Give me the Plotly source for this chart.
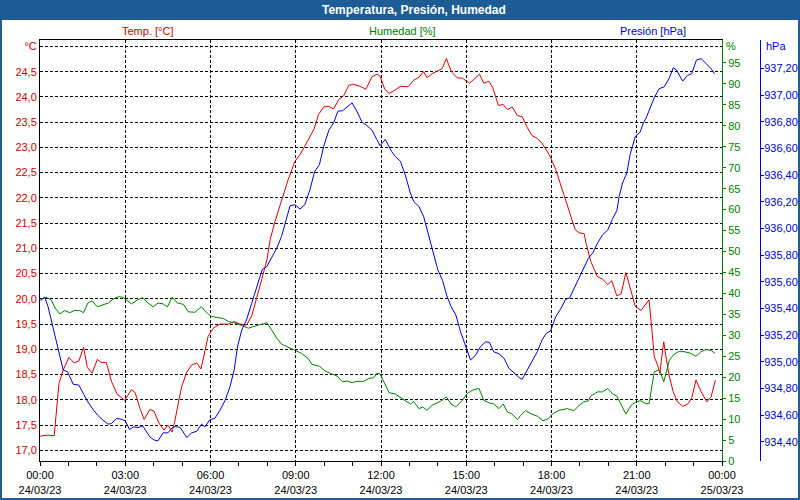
import plotly.graph_objects as go
import pandas as pd

title_text = "Temperatura, Presión, Humedad"
day0 = "2023-03-24 00:00"

# minutes after 00:00 24/03/23 and readings
temp_min = [0, 17, 30, 40, 49, 61, 72, 82, 92, 100,
            110, 121, 129, 140, 151, 163, 179, 193, 201, 211,
            220, 232, 241, 251, 262, 270, 279, 284, 299, 310,
            320, 331, 340, 348, 355, 366, 380, 398, 410, 422,
            436, 447, 458, 468, 479, 486, 496, 510, 524, 538,
            549, 560, 570, 579, 588, 599, 610, 620, 631, 641,
            652, 662, 676, 688, 701, 712, 718, 728, 737, 749,
            761, 777, 789, 800, 810, 817, 828, 840, 849, 858,
            869, 881, 892, 907, 918, 928, 937, 948, 956, 968,
            978, 987, 997, 1008, 1018, 1029, 1039, 1050, 1060, 1075,
            1089, 1103, 1117, 1130, 1138, 1149, 1153, 1163, 1177, 1188,
            1199, 1207, 1218, 1227, 1237, 1246, 1257, 1269, 1278, 1286,
            1292, 1297, 1304, 1309, 1312, 1317, 1321, 1329, 1337, 1346,
            1357, 1367, 1376, 1385, 1396, 1408, 1417, 1426]
temp_c = [17.28, 17.30, 17.29, 18.32, 18.59, 18.84, 18.73, 18.77, 19.04, 18.64,
          18.53, 18.80, 18.74, 18.74, 18.36, 18.11, 17.99, 18.20, 18.14, 17.83,
          17.61, 17.81, 17.77, 17.54, 17.40, 17.50, 17.36, 17.55, 18.26, 18.55,
          18.69, 18.73, 18.61, 18.95, 19.26, 19.42, 19.50, 19.50, 19.55, 19.50,
          19.48, 19.66, 20.01, 20.38, 20.77, 21.17, 21.53, 21.96, 22.36, 22.72,
          22.86, 23.04, 23.22, 23.37, 23.65, 23.80, 23.81, 23.76, 23.95, 24.02,
          24.23, 24.25, 24.21, 24.15, 24.40, 24.45, 24.41, 24.15, 24.07, 24.13,
          24.21, 24.20, 24.33, 24.39, 24.50, 24.38, 24.46, 24.51, 24.56, 24.76,
          24.49, 24.38, 24.37, 24.27, 24.37, 24.45, 24.27, 24.31, 24.18, 23.83,
          23.85, 23.75, 23.80, 23.63, 23.61, 23.39, 23.23, 23.18, 23.08, 22.86,
          22.56, 22.16, 21.73, 21.37, 21.31, 21.29, 21.10, 20.74, 20.44, 20.39,
          20.28, 20.36, 20.06, 20.10, 20.52, 20.21, 19.85, 19.77, 19.88, 19.98,
          19.38, 18.85, 18.69, 18.52, 18.79, 19.15, 18.89, 18.45, 18.16, 17.96,
          17.87, 17.91, 18.03, 18.39, 18.16, 17.96, 18.06, 18.39]

hum_min = [1, 13, 24, 32, 42, 52, 63, 72, 84, 92,
           101, 110, 121, 133, 144, 154, 165, 175, 182, 193,
           205, 217, 228, 239, 249, 260, 269, 279, 290, 303,
           313, 327, 341, 352, 362, 373, 387, 398, 412, 429,
           440, 454, 468, 479, 489, 500, 510, 524, 538, 552,
           566, 574, 590, 602, 613, 627, 639, 648, 659, 669,
           683, 694, 705, 711, 718, 728, 737, 750, 763, 775,
           782, 789, 800, 808, 817, 828, 845, 858, 868, 878,
           892, 902, 913, 927, 937, 948, 958, 969, 978, 987,
           997, 1008, 1015, 1025, 1038, 1050, 1062, 1073, 1083, 1096,
           1113, 1127, 1138, 1148, 1158, 1163, 1177, 1188, 1199, 1208,
           1218, 1227, 1237, 1248, 1258, 1269, 1278, 1286, 1292, 1297,
           1306, 1311, 1317, 1322, 1329, 1339, 1348, 1360, 1374, 1385,
           1396, 1406, 1417, 1425]
hum_pct = [38.6, 39.1, 38.4, 36.5, 35.1, 35.9, 35.4, 35.9, 35.9, 35.4,
           37.7, 38.2, 36.8, 37.2, 37.7, 38.6, 39.2, 39.1, 38.4, 37.5,
           38.4, 39.0, 37.7, 36.8, 37.7, 37.5, 36.8, 39.1, 37.7, 37.4,
           35.6, 35.5, 36.8, 35.4, 34.5, 34.3, 34.0, 33.3, 32.9, 32.2,
           31.7, 32.2, 32.6, 33.0, 31.3, 29.3, 27.9, 27.1, 26.3, 25.7,
           24.5, 23.1, 22.6, 21.5, 20.9, 20.3, 18.9, 19.1, 18.7, 19.0,
           19.0, 19.7, 19.9, 20.9, 20.8, 18.5, 16.3, 16.0, 14.9, 14.1,
           13.6, 14.2, 12.5, 12.9, 12.1, 13.3, 14.2, 15.3, 13.6, 12.9,
           14.5, 16.1, 16.9, 17.3, 14.5, 13.9, 13.6, 12.5, 13.6, 11.7,
           11.2, 9.9, 10.9, 12.0, 11.2, 10.7, 9.6, 10.1, 11.3, 12.1,
           12.5, 12.0, 13.2, 14.1, 14.4, 15.5, 16.5, 16.5, 17.3, 16.1,
           15.5, 13.3, 11.2, 13.3, 14.1, 14.4, 13.7, 13.7, 17.7, 21.3,
           21.7, 20.9, 18.9, 21.3, 24.1, 25.5, 26.1, 26.1, 25.7, 25.0,
           26.1, 26.6, 26.4, 25.7]

pres_min = [1, 10, 17, 27, 38, 49, 58, 70, 82, 91,
            101, 112, 122, 133, 144, 151, 161, 172, 180, 189,
            198, 207, 217, 232, 242, 249, 260, 270, 281, 290,
            296, 310, 320, 331, 341, 348, 359, 369, 380, 391,
            401, 410, 417, 426, 436, 447, 460, 469, 479, 489,
            500, 510, 519, 528, 538, 549, 559, 570, 580, 590,
            599, 610, 620, 629, 639, 650, 659, 669, 680, 690,
            701, 711, 718, 729, 742, 750, 761, 771, 782, 789,
            800, 810, 821, 831, 840, 850, 859, 868, 878, 888,
            899, 909, 920, 930, 941, 949, 958, 969, 980, 990,
            1001, 1011, 1018, 1029, 1039, 1050, 1060, 1069, 1078, 1089,
            1099, 1110, 1118, 1129, 1142, 1158, 1167, 1177, 1188, 1199,
            1208, 1218, 1223, 1230, 1239, 1246, 1251, 1257, 1267, 1274,
            1279, 1286, 1297, 1307, 1318, 1329, 1337, 1344, 1357, 1367,
            1376, 1386, 1396, 1406, 1417, 1424]
pres_hpa = [935.459, 935.485, 935.414, 935.264, 935.089, 934.939, 934.926, 934.833, 934.826, 934.768,
            934.700, 934.643, 934.600, 934.563, 934.533, 934.538, 934.576, 934.570, 934.558, 934.493,
            934.513, 934.508, 934.520, 934.437, 934.413, 934.408, 934.468, 934.468, 934.513, 934.513,
            934.508, 934.433, 934.468, 934.480, 934.533, 934.513, 934.568, 934.576, 934.638, 934.713,
            934.813, 934.939, 935.114, 935.239, 935.314, 935.439, 935.590, 935.690, 935.715, 935.778,
            935.853, 935.940, 936.053, 936.171, 936.178, 936.146, 936.178, 936.291, 936.428, 936.479,
            936.616, 936.737, 936.792, 936.879, 936.883, 936.917, 936.942, 936.879, 936.797, 936.772,
            936.737, 936.667, 936.621, 936.667, 936.579, 936.541, 936.504, 936.404, 936.266, 936.203,
            936.165, 936.090, 935.940, 935.815, 935.690, 935.610, 935.495, 935.414, 935.352, 935.226,
            935.114, 935.014, 935.051, 935.114, 935.151, 935.146, 935.076, 935.061, 935.026, 934.951,
            934.918, 934.884, 934.869, 934.939, 935.001, 935.076, 935.164, 935.214, 935.231, 935.339,
            935.395, 935.470, 935.478, 935.564, 935.652, 935.778, 935.815, 935.890, 935.953, 935.990,
            936.066, 936.135, 936.241, 936.341, 936.416, 936.554, 936.616, 936.691, 936.721, 936.792,
            936.822, 936.879, 936.980, 937.047, 937.062, 937.130, 937.205, 937.188, 937.105, 937.147,
            937.160, 937.262, 937.273, 937.238, 937.198, 937.160]

x_tick_hours = [0, 3, 6, 9, 12, 15, 18, 21, 24]
x_tick_text = ["00:00<br>24/03/23", "03:00<br>24/03/23", "06:00<br>24/03/23",
               "09:00<br>24/03/23", "12:00<br>24/03/23", "15:00<br>24/03/23",
               "18:00<br>24/03/23", "21:00<br>24/03/23", "00:00<br>25/03/23"]
temp_ticks = [17.0, 17.5, 18.0, 18.5, 19.0, 19.5, 20.0, 20.5, 21.0, 21.5,
              22.0, 22.5, 23.0, 23.5, 24.0, 24.5, 25.0]
temp_tick_text = ["17,0", "17,5", "18,0", "18,5", "19,0", "19,5", "20,0", "20,5",
                  "21,0", "21,5", "22,0", "22,5", "23,0", "23,5", "24,0", "24,5", "°C"]
hum_ticks = [0, 5, 10, 15, 20, 25, 30, 35, 40, 45, 50, 55, 60, 65, 70, 75, 80, 85, 90, 95]
pres_ticks = [934.40, 934.60, 934.80, 935.00, 935.20, 935.40, 935.60, 935.80,
              936.00, 936.20, 936.40, 936.60, 936.80, 937.00, 937.20]
pres_tick_text = ["934,40", "934,60", "934,80", "935,00", "935,20", "935,40", "935,60",
                  "935,80", "936,00", "936,20", "936,40", "936,60", "936,80", "937,00", "937,20"]

RED, GREEN, BLUE = "#cc0000", "#008000", "#0000cc"
BAR = "#1e5c96"
FONT = "Liberation Sans"

t0 = pd.Timestamp(day0)
def to_time(mins):
    return [t0 + pd.Timedelta(minutes=m) for m in mins]

# layout geometry (pixels)
W, H = 800, 500
ML, MR, MT, MB = 40, 2, 40, 39
PW, PH = W - ML - MR, H - MT - MB
def px(x):
    return (x - ML) / PW
def py(y):
    return (H - MB - y) / PH

fig = go.Figure()
fig.add_trace(go.Scatter(x=to_time(temp_min), y=temp_c, mode="lines",
                         line=dict(color="#dd0000", width=1), yaxis="y", name="Temp."))
fig.add_trace(go.Scatter(x=to_time(hum_min), y=hum_pct, mode="lines",
                         line=dict(color="#008000", width=1), yaxis="y2", name="Humedad"))
fig.add_trace(go.Scatter(x=to_time(pres_min), y=pres_hpa, mode="lines",
                         line=dict(color="#0000dd", width=1), yaxis="y3", name="Presión"))

grid = dict(showgrid=True, gridcolor="black", gridwidth=1, griddash="3px,2px")
fig.update_layout(
    width=W, height=H,
    margin=dict(l=ML, r=MR, t=MT, b=MB, pad=0),
    paper_bgcolor="white", plot_bgcolor="white",
    showlegend=False,
    font=dict(family=FONT, size=11, color="black"),
    xaxis=dict(domain=[0, 682 / PW], type="date",
               range=[t0, t0 + pd.Timedelta(hours=24)],
               tickvals=[t0 + pd.Timedelta(hours=h) for h in x_tick_hours],
               ticktext=x_tick_text, tickfont=dict(color="black", size=11),
               showline=True, linecolor="black", linewidth=1, mirror=True,
               ticks="outside", ticklen=4, tickcolor="black",
               minor=dict(dtick=3600000, tick0=t0, ticks="outside", ticklen=4,
                          tickcolor="black", showgrid=False),
               zeroline=False, automargin=False, fixedrange=True, **grid),
    yaxis=dict(range=[16.788, 25.127], tickvals=temp_ticks, ticktext=temp_tick_text,
               tickfont=dict(color=RED, size=11), showline=True, linecolor="black",
               ticks="", zeroline=False, automargin=False, **grid),
    yaxis2=dict(overlaying="y", side="right", anchor="x", range=[0, 100.48],
                tickvals=hum_ticks, tickfont=dict(color=GREEN, size=11),
                showline=True, linecolor=GREEN, ticks="outside", ticklen=3,
                tickcolor=GREEN, showgrid=False, zeroline=False, automargin=False),
    yaxis3=dict(overlaying="y", side="right", anchor="free", position=px(760),
                range=[934.257, 937.413], tickvals=pres_ticks, ticktext=pres_tick_text,
                tickfont=dict(color=BLUE, size=11), showline=True, linecolor=BLUE,
                ticks="outside", ticklen=3, tickcolor=BLUE, showgrid=False,
                ticklabelstandoff=-2,
                zeroline=False, automargin=False),
)

shapes = [
    dict(type="rect", xref="paper", yref="paper", x0=px(0), x1=px(800),
         y0=py(20), y1=py(0), fillcolor=BAR, line=dict(width=0), layer="above"),
    dict(type="rect", xref="paper", yref="paper", x0=px(0), x1=px(2),
         y0=py(500), y1=py(0), fillcolor=BAR, line=dict(width=0), layer="above"),
    dict(type="rect", xref="paper", yref="paper", x0=px(798), x1=px(800),
         y0=py(500), y1=py(0), fillcolor=BAR, line=dict(width=0), layer="above"),
    dict(type="rect", xref="paper", yref="paper", x0=px(0), x1=px(800),
         y0=py(500), y1=py(498), fillcolor=BAR, line=dict(width=0), layer="above"),
]
fig.update_layout(shapes=shapes)

def ann(text, x, y, color, anchor="center", size=11, bold=False):
    return dict(text=("<b>%s</b>" % text) if bold else text, xref="paper", yref="paper",
                x=px(x), y=py(y), xanchor=anchor, yanchor="middle", showarrow=False,
                font=dict(family=FONT, size=size, color=color))

fig.update_layout(annotations=[
    ann(title_text, 414, 10, "white", size=12, bold=True),
    ann("Temp. [°C]", 147, 31, RED),
    ann("Humedad [%]", 402, 31, GREEN),
    ann("Presión [hPa]", 653, 31, BLUE),
    ann("%", 724, 46, GREEN, anchor="left"),
    ann("hPa", 764, 46, BLUE, anchor="left"),
])

fig.write_html("out.html")
